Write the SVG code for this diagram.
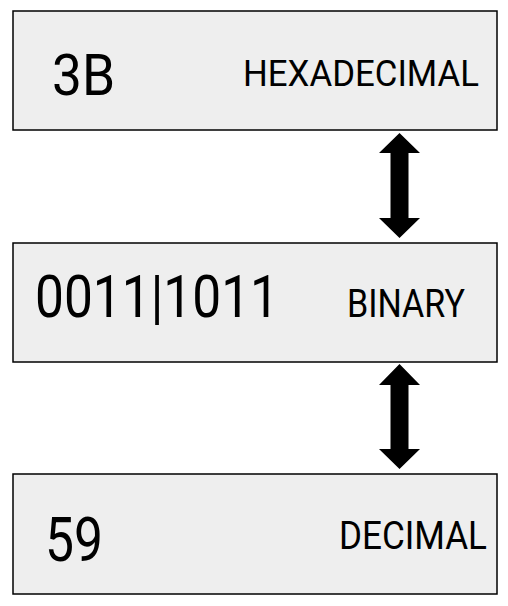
<svg xmlns="http://www.w3.org/2000/svg" width="508" height="606" viewBox="0 0 508 606">
<style>
.box{fill:#eeeeee;stroke:#000;stroke-width:1.5}
.t{font-family:Roboto,"Liberation Sans",sans-serif;fill:#000}
.arr{fill:#000}
</style>
<rect width="508" height="606" fill="#fff"/>
<g id="hex">
<rect class="box" x="13" y="11" width="484" height="119"/>
<text class="t" x="52" y="95" font-size="58" textLength="63" lengthAdjust="spacingAndGlyphs">3B</text>
<text class="t" x="243" y="86" font-size="37" textLength="236" lengthAdjust="spacingAndGlyphs">HEXADECIMAL</text>
</g>
<g id="bin">
<rect class="box" x="13" y="243" width="484" height="119"/>
<text class="t" x="35" y="317" font-size="60" textLength="244" lengthAdjust="spacingAndGlyphs">0011|1011</text>
<text class="t" x="347" y="317" font-size="38" textLength="118" lengthAdjust="spacingAndGlyphs">BINARY</text>
</g>
<g id="dec">
<rect class="box" x="13" y="474" width="484" height="120"/>
<text class="t" x="45" y="561" font-size="62" textLength="58" lengthAdjust="spacingAndGlyphs">59</text>
<text class="t" x="339" y="549" font-size="38" textLength="148" lengthAdjust="spacingAndGlyphs">DECIMAL</text>
</g>
<g id="connectors">
<polygon class="arr" points="399.5,133 420,153 408.5,153 408.5,218 420,218 399.5,238 379,218 390.5,218 390.5,153 379,153"/>
<polygon class="arr" points="399.5,364 420,385 408.5,385 408.5,449 420,449 399.5,469 379,449 390.5,449 390.5,385 379,385"/>
</g>
</svg>
